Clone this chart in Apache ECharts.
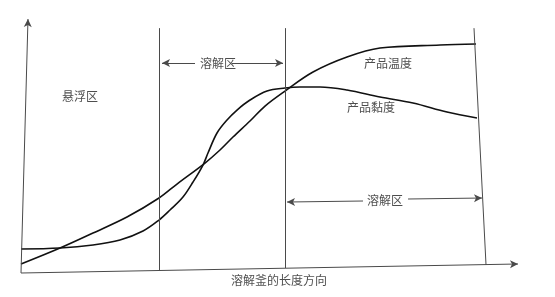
<!DOCTYPE html>
<html><head><meta charset="utf-8">
<script src="https://cdn.jsdelivr.net/npm/echarts@6/dist/echarts.min.js"></script>
<style>html,body{margin:0;padding:0;background:#fff}#c{width:555px;height:297px}</style>
</head><body><div id="c"></div>
<script>
// Product temperature curve (x: position along vessel, y: relative value)
var tempX = [0, 7.82, 14.43, 21.24, 27.66, 31.26, 36.87, 39.88, 42.48, 45.89, 48.90, 52.91, 58.52, 65.33, 71.94, 83.97, 91.18];
var tempY = [3.56, 9.88, 15.81, 22.13, 29.64, 35.18, 43.48, 48.62, 53.75, 60.08, 66.01, 71.94, 79.45, 85.38, 88.93, 90.12, 90.51];
// Product viscosity curve
var viscX = [0, 7.82, 14.43, 19.84, 24.45, 27.66, 29.86, 32.46, 34.47, 36.47, 37.47, 39.28, 41.28, 43.29, 45.89, 49.30, 52.91, 55.91, 59.92, 65.33, 71.94, 78.56, 85.37, 91.38];
var viscY = [9.49, 9.88, 11.07, 13.04, 16.60, 20.95, 24.90, 30.04, 35.97, 42.69, 47.43, 55.34, 60.47, 64.43, 68.38, 71.94, 73.12, 73.52, 73.52, 72.33, 69.57, 67.19, 63.64, 61.26];
// Zone boundaries (x positions)
var boundaryX = [27.65, 52.9];
// Text labels
var labelTexts = ['悬浮区', '溶解区', '溶解区', '产品温度', '产品黏度', '溶解釜的长度方向'];
var labelX = [11.82, 39.48, 72.95, 73.55, 70.14, 51.7];
var labelY = [69.96, 83.0, 28.85, 83.0, 65.6, -2.9];

function pairs(xs, ys) { return xs.map(function (x, i) { return [x, ys[i]]; }); }

var lineGray = '#4a4a4a';
var seg = function (a, b, endSym, startSym) {
  return [{coord: a, symbol: startSym || 'none'}, {coord: b, symbol: endSym || 'none'}];
};

var chart = echarts.init(document.getElementById('c'), null, {renderer: 'canvas'});
chart.setOption({
  animation: false,
  grid: {left: 21, right: 30, top: 15, bottom: 24},
  xAxis: {type: 'value', min: 0, max: 101, show: false},
  yAxis: {type: 'value', min: 0, max: 102, show: false},
  series: [
    {
      type: 'line', name: '产品温度', data: pairs(tempX, tempY), smooth: 0.35,
      showSymbol: false, lineStyle: {color: '#111', width: 1.6}, clip: false,
      markLine: {
        silent: true, symbolSize: [6, 8], animation: false,
        label: {show: false},
        lineStyle: {color: lineGray, width: 1, type: 'solid'},
        emphasis: {disabled: true},
        data: [
          // axes
          seg([0, 0], [99.6, 3.56], 'arrow'),
          seg([0, 0], [1.4, 100.4], 'arrow'),
          // zone dividers
          seg([boundaryX[0], 1.19], [boundaryX[0], 96.8]),
          seg([boundaryX[1], 1.98], [boundaryX[1], 96.8]),
          seg([93.19, 3.16], [90.78, 96.8]),
          // top zone arrow
          seg([34.87, 83.0], [28.26, 83.0], 'arrow'),
          seg([42.28, 83.0], [52.51, 83.0], 'arrow'),
          // bottom zone arrow
          seg([68.54, 28.46], [53.31, 28.06], 'arrow'),
          seg([77.56, 29.25], [92.38, 29.64], 'arrow')
        ]
      }
    },
    {
      type: 'line', name: '产品黏度', data: pairs(viscX, viscY), smooth: 0.35,
      showSymbol: false, lineStyle: {color: '#111', width: 1.6}, clip: false
    },
    {
      type: 'scatter', symbolSize: 0, clip: false, silent: true,
      data: labelTexts.map(function (t, i) { return {value: [labelX[i], labelY[i]], name: t}; }),
      label: {
        show: true, position: 'inside', formatter: '{b}',
        fontFamily: 'Noto Sans CJK SC', fontSize: 12, color: '#222'
      }
    }
  ]
});
</script></body></html>
